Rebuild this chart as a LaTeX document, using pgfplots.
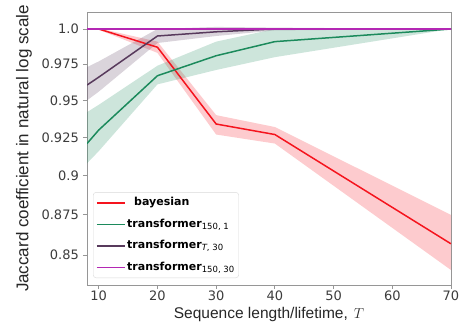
\documentclass[border=0pt]{standalone}
\usepackage{fontspec}
\setmainfont{DejaVu Sans}
\newfontfamily\lsans{Liberation Sans}
\usepackage{pgfplots}
\pgfplotsset{compat=1.18}
\definecolor{cred}{RGB}{245,20,30}
\definecolor{cgreen}{RGB}{28,138,92}
\definecolor{cpurp}{RGB}{88,58,92}
\definecolor{cmag}{RGB}{180,40,180}
\definecolor{spine}{RGB}{150,150,150}
\definecolor{tlab}{RGB}{60,60,60}
\newcommand{\sub}[1]{\raisebox{-0.3ex}{\fontsize{8.5bp}{9bp}\selectfont\mdseries #1}}
\begin{document}
\begin{tikzpicture}
\begin{axis}[
  at={(87bp,48bp)}, anchor=south west,
  scale only axis, width=364bp, height=273bp,
  xmin=8, xmax=70,
  ymode=log, ymin=0.832, ymax=1.0123,
  xtick={10,20,30,40,50,60,70},
  xticklabels={10,20,30,40,50,60,70},
  ytick={0.85,0.875,0.9,0.925,0.95,0.975,1.0},
  yticklabels={0.85,0.875,0.9,0.925,0.95,0.975,1.0},
  minor tick num=0,
  tick align=outside, tick pos=left,
  major tick length=4bp,
  every tick/.style={spine, line width=0.8bp},
  axis line style={spine, line width=1bp},
  ticklabel style={font=\fontsize{13bp}{15bp}\selectfont, text=tlab},
  yticklabel style={inner sep=0pt, xshift=-4bp},
  xticklabel style={inner sep=0pt, yshift=-2bp, text depth=0pt},
  xlabel={{\lsans Sequence length/lifetime,}\hspace{6bp}$T$},
  ylabel={\lsans Jaccard coefficient in natural log scale},
  xlabel style={at={(axis description cs:0.5,-0.123)}, anchor=base, inner sep=0pt, font=\fontsize{15.5bp}{18bp}\selectfont, text=black!85},
  ylabel style={at={(axis description cs:-0.151,0.5)}, anchor=south, rotate=0, inner sep=0pt, font=\fontsize{17bp}{20bp}\selectfont, text=black!85},
  legend cell align=left,
  legend image code/.code={\draw[#1, line width=1.5bp] (0bp,0bp) -- (28bp,0bp);},
  legend style={at={(0.0165,0.0256)}, anchor=south west, draw=black!15, rounded corners=3bp,
    fill=white, fill opacity=0.8, text opacity=1, inner xsep=3bp, inner ysep=3bp,
    row sep=6.5bp, font=\fontsize{11bp}{13bp}\selectfont\bfseries,
    nodes={inner sep=1.5bp, text height=9bp, text depth=3bp}},
]
% bands
\addplot[forget plot, draw=none, fill=cred, fill opacity=0.22] coordinates {
 (8,1.0) (10,1.0005) (20,0.991) (30,0.940) (40,0.932) (70,0.875)
 (70,0.841) (40,0.921) (30,0.927) (20,0.983) (10,0.9995) (8,1.0)};
\addplot[forget plot, draw=none, fill=cgreen, fill opacity=0.22] coordinates {
 (8,0.942) (10,0.947) (20,0.974) (30,0.991) (40,1.0) (70,1.0)
 (70,1.0) (40,0.980) (30,0.971) (20,0.961) (10,0.916) (8,0.908)};
\addplot[forget plot, draw=none, fill=cpurp, fill opacity=0.22] coordinates {
 (8,0.973) (10,0.977) (20,1.0) (30,1.0015) (40,1.001) (70,1.0)
 (70,1.0) (40,0.999) (30,0.995) (20,0.990) (10,0.956) (8,0.950)};
% lines
\addplot[cred, line width=1.5bp] coordinates {
 (8,1.0) (10,1.0) (20,0.987) (30,0.934) (40,0.927) (70,0.857)};
\addlegendentry{\hspace{7bp}bayesian}
\addplot[cgreen, line width=1.5bp] coordinates {
 (8,0.921) (10,0.930) (20,0.967) (30,0.981) (40,0.991) (70,1.0)};
\addlegendentry{transformer\sub{150, 1}}
\addplot[cpurp, line width=1.5bp] coordinates {
 (8,0.9605) (10,0.966) (20,0.995) (30,0.998) (40,1.0) (70,1.0)};
\addlegendentry{transformer\sub{\itshape T\upshape, 30}}
\addplot[cmag, line width=1.5bp] coordinates {
 (8,1.0) (10,1.0) (20,1.0) (30,1.0) (40,1.0) (70,1.0)};
\addlegendentry{transformer\sub{150, 30}}
\end{axis}
\pgfresetboundingbox
\path (0,0) rectangle (459bp,333bp);
\end{tikzpicture}
\end{document}
